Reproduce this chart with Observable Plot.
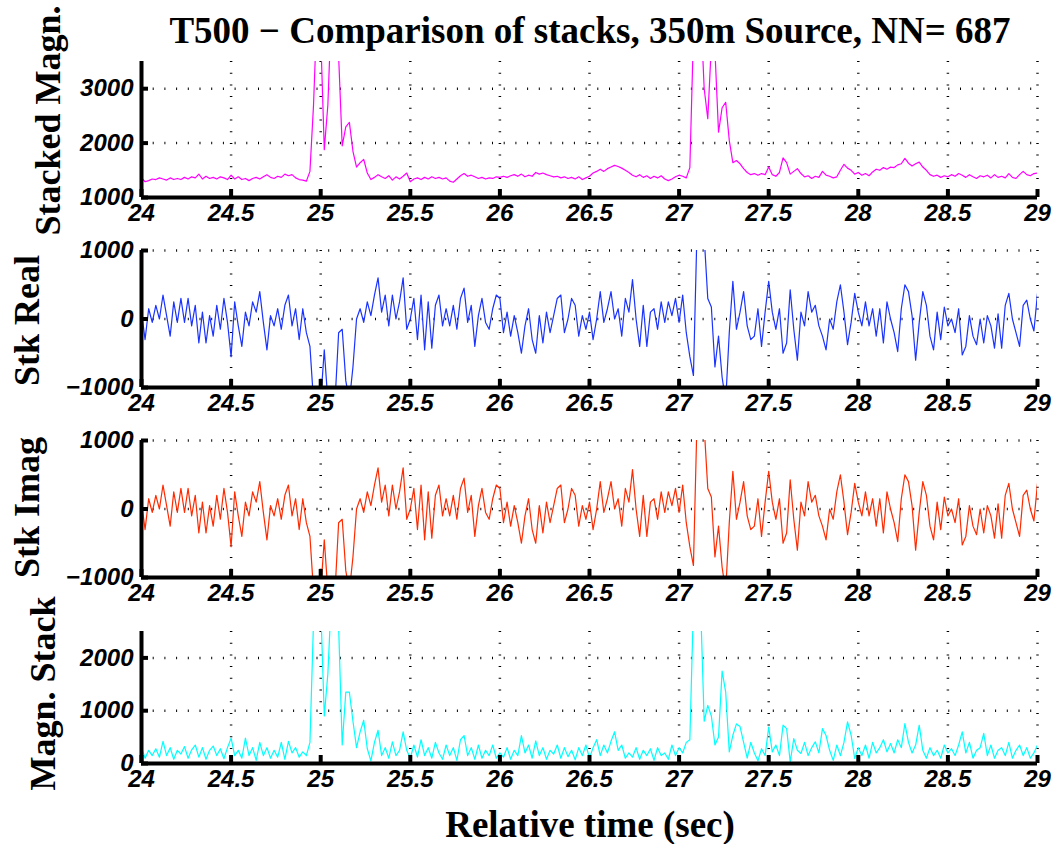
<!DOCTYPE html>
<html><head><meta charset="utf-8">
<script src="https://cdn.jsdelivr.net/npm/d3@7"></script>
<script src="https://cdn.jsdelivr.net/npm/@observablehq/plot@0.6"></script>
<style>
body{margin:0;background:#fff;}
#wrap{position:relative;width:1057px;height:844px;background:#fff;overflow:hidden;}
#wrap svg{position:absolute;left:0;}
.lbl{position:absolute;font-family:"Liberation Serif","Times New Roman",serif;font-weight:bold;white-space:nowrap;text-align:center;line-height:1;color:#000;}
</style></head><body>
<div id="wrap"></div>
<script>
// ---------------- data ----------------
const sampleStart = 24;      // s
const sampleStep = 0.02;     // s
const xTicks = [24, 24.5, 25, 25.5, 26, 26.5, 27, 27.5, 28, 28.5, 29];

const titleText = "T500 − Comparison of stacks, 350m Source, NN= 687";
const xLabelText = "Relative time (sec)";

const stackedMagn = [
1360,1290,1310,1340,1330,1360,1340,1320,1360,1330,
1350,1330,1370,1340,1380,1360,1430,1340,1390,1350,
1370,1340,1380,1360,1330,1410,1340,1380,1330,1350,
1310,1350,1370,1340,1380,1420,1370,1350,1390,1370,
1430,1400,1420,1360,1330,1320,1300,1480,2700,4500,
4000,1880,2700,4500,5000,3600,1950,2300,2380,1850,
1560,1640,1700,1450,1330,1370,1420,1380,1350,1400,
1320,1380,1340,1390,1450,1290,1340,1360,1330,1370,
1340,1380,1350,1370,1340,1360,1300,1280,1340,1400,
1440,1390,1410,1380,1350,1370,1340,1360,1350,1380,
1370,1390,1370,1400,1420,1390,1430,1380,1410,1390,
1460,1430,1450,1420,1400,1380,1390,1360,1380,1350,
1370,1340,1380,1330,1360,1390,1450,1480,1520,1480,
1530,1560,1590,1570,1540,1500,1460,1410,1380,1420,
1370,1400,1350,1390,1360,1400,1340,1310,1340,1380,
1410,1390,1360,1550,4000,5000,4500,3000,2450,3800,
3700,2200,2650,2750,2050,1640,1680,1620,1530,1460,
1420,1440,1410,1440,1420,1560,1420,1390,1460,1730,
1640,1430,1480,1530,1440,1380,1400,1350,1390,1370,
1480,1410,1390,1360,1380,1500,1610,1540,1500,1430,
1460,1410,1440,1400,1470,1520,1500,1550,1520,1560,
1550,1600,1620,1720,1630,1580,1620,1650,1560,1500,
1420,1390,1410,1370,1400,1380,1420,1390,1440,1410,
1370,1420,1380,1350,1400,1380,1410,1360,1420,1370,
1390,1360,1440,1370,1350,1420,1480,1420,1400,1440,
1450];

const stkReal = [
100,-300,150,-50,200,0,350,50,-250,250,
-50,300,-50,300,-100,200,-350,100,-350,50,
-250,200,-150,300,-50,-550,250,-100,-400,100,
-100,250,100,400,-50,-450,50,-100,150,-150,
200,350,-100,150,-300,150,-200,-400,-1200,-1300,
-1200,-450,-1200,-1400,-1200,-200,-150,-900,-1200,-700,
0,150,-50,250,50,350,600,100,350,-100,
350,0,250,600,-150,0,300,-300,350,-450,
250,-425,200,350,-100,150,-100,200,-150,300,
450,-50,200,-400,50,300,-50,-150,150,350,
300,-200,100,-250,50,-200,-500,-100,150,-300,
-500,50,-350,100,-200,50,300,350,-200,0,
300,200,-250,50,-150,100,-300,0,400,-50,
150,400,0,150,-250,300,100,575,0,-400,
200,-400,100,150,-150,250,-50,250,50,300,
-50,350,-200,-550,-825,1300,1400,1200,300,175,
-700,-250,-850,-1200,-200,550,-150,100,400,-100,
-300,-250,150,-400,100,550,100,-150,150,-500,
-350,425,-150,-600,100,-100,400,100,200,-100,
-250,-450,0,-150,250,500,100,-375,-50,375,
100,-100,250,-100,150,-250,150,-350,250,0,
-200,-475,150,500,400,50,-600,-50,400,200,
-250,-450,100,-300,175,-100,0,-200,150,-525,
-400,50,-250,-375,0,-350,50,-100,-425,75,
-425,200,375,0,-200,-400,200,275,0,-175,
375];

const stkImag = [
100,-300,150,-50,200,0,350,50,-250,250,
-50,300,-50,300,-100,200,-350,100,-350,50,
-250,200,-150,300,-50,-550,250,-100,-400,100,
-100,250,100,400,-50,-450,50,-100,150,-150,
200,350,-100,150,-300,150,-200,-400,-1200,-1300,
-1200,-450,-1200,-1400,-1200,-200,-150,-900,-1200,-700,
0,150,-50,250,50,350,600,100,350,-100,
350,0,250,600,-150,0,300,-300,350,-450,
250,-425,200,350,-100,150,-100,200,-150,300,
450,-50,200,-400,50,300,-50,-150,150,350,
300,-200,100,-250,50,-200,-500,-100,150,-300,
-500,50,-350,100,-200,50,300,350,-200,0,
300,200,-250,50,-150,100,-300,0,400,-50,
150,400,0,150,-250,300,100,575,0,-400,
200,-400,100,150,-150,250,-50,250,50,300,
-50,350,-200,-550,-825,1300,1400,1200,300,175,
-700,-250,-850,-1200,-200,550,-150,100,400,-100,
-300,-250,150,-400,100,550,100,-150,150,-500,
-350,425,-150,-600,100,-100,400,100,200,-100,
-250,-450,0,-150,250,500,100,-375,-50,375,
100,-100,250,-100,150,-250,150,-350,250,0,
-200,-475,150,500,400,50,-600,-50,400,200,
-250,-450,100,-300,175,-100,0,-200,150,-525,
-400,50,-250,-375,0,-350,50,-100,-425,75,
-425,200,375,0,-200,-400,200,275,0,-175,
375];

const magnStack = [
300,100,250,150,280,120,420,150,300,80,
250,180,320,100,260,350,120,300,80,250,
330,150,280,90,300,480,150,250,100,480,
150,300,60,400,150,300,100,250,120,400,
80,420,200,300,120,220,150,400,2700,3500,
3000,900,1700,3200,3500,2600,350,1350,1350,800,
300,600,820,280,50,400,630,150,300,100,
410,150,250,600,250,100,350,120,450,150,
300,100,400,200,80,350,150,300,60,450,
530,150,300,80,350,100,250,150,350,100,
200,120,300,80,250,150,530,200,350,100,
430,150,300,80,250,180,350,100,300,130,
250,70,300,150,350,100,300,450,150,350,
200,420,600,250,350,100,200,120,300,80,
250,150,280,60,300,150,200,80,350,150,
300,200,400,450,3000,3500,3000,800,1100,900,
350,500,1750,1350,220,535,750,700,400,100,
400,200,50,280,150,690,220,350,150,725,
660,30,470,250,190,400,150,300,410,200,
660,530,250,60,350,150,400,790,535,95,
300,150,350,100,400,200,300,450,220,380,
200,450,300,755,400,200,350,725,250,100,
300,150,250,100,350,200,280,150,350,600,
200,400,100,250,300,570,150,350,100,250,
300,150,400,100,250,350,150,300,100,200,
350];

const panels = [
  {label: "Stacked Magn.", values: stackedMagn, color: "#ff00ff", yDomain: [1000, 3500], yTicks: [1000, 2000, 3000], yGrid: [2000, 3000],
   svgTop: 0, marginTop: 61, frameH: 136, marginBottom: 43, labelX: 48, labelY: 120},
  {label: "Stk Real", values: stkReal, color: "#1a33ff", yDomain: [-1000, 1000], yTicks: [-1000, 0, 1000], yGrid: [0, 1000],
   svgTop: 240, marginTop: 10, frameH: 137, marginBottom: 43, labelX: 27, labelY: 320},
  {label: "Stk Imag", values: stkImag, color: "#ff2a00", yDomain: [-1000, 1000], yTicks: [-1000, 0, 1000], yGrid: [0, 1000],
   svgTop: 430, marginTop: 10, frameH: 137, marginBottom: 43, labelX: 27, labelY: 507},
  {label: "Magn. Stack", values: magnStack, color: "#00ffff", yDomain: [0, 2500], yTicks: [0, 1000, 2000], yGrid: [1000, 2000],
   svgTop: 620, marginTop: 11, frameH: 132, marginBottom: 40, labelX: 43, labelY: 693}
];

// ---------------- drawing ----------------
const W = 1057, ML = 141, MR = 20, FW = W - ML - MR;
const fmt = d => d < 0 ? "\u2212" + Math.abs(d) : String(d);
const wrap = document.getElementById("wrap");
const tickFont = {fontSize: 24, fontWeight: "bold", fontStyle: "italic", fontFamily: "Liberation Sans, Arial, sans-serif", fill: "#000"};
const dots = {stroke: "#000", strokeOpacity: 1, strokeWidth: 2.5, strokeDasharray: "1,10.7"};

for (const p of panels) {
  const data = p.values.map((v, i) => ({t: sampleStart + i * sampleStep, v}));
  const H = p.marginTop + p.frameH + p.marginBottom;
  const svg = Plot.plot({
    width: W, height: H,
    marginLeft: ML, marginRight: MR, marginTop: p.marginTop, marginBottom: p.marginBottom,
    style: {background: "transparent", overflow: "visible"},
    x: {domain: [24, 29], axis: null},
    y: {domain: p.yDomain, axis: null},
    marks: [
      Plot.gridX(xTicks.slice(1), dots),
      Plot.gridY(p.yGrid, dots),
      Plot.line(data, {x: "t", y: "v", stroke: p.color, strokeWidth: 1.2, clip: true}),
      Plot.ruleX([24], {stroke: "#000", strokeWidth: 4}),
      Plot.ruleY([p.yDomain[0]], {x1: 24, x2: 29, stroke: "#000", strokeWidth: 4}),
      Plot.ruleX(xTicks, {stroke: "#000", strokeWidth: 4, insetTop: p.frameH - 8}),
      Plot.ruleY(p.yTicks, {stroke: "#000", strokeWidth: 4, insetRight: FW - 7}),
      Plot.axisX({ticks: xTicks, tickSize: 0, tickPadding: 6, tickFormat: fmt, label: null, ...tickFont}),
      Plot.axisY({ticks: p.yTicks, tickSize: 0, tickPadding: 8, tickFormat: fmt, label: null, ...tickFont}),
      Plot.text([p.label], {frameAnchor: "left", textAnchor: "middle", lineAnchor: "middle", rotate: -90, dx: p.labelX - ML,
        dy: p.labelY - (p.svgTop + p.marginTop + p.frameH / 2),
        fontSize: 36, fontWeight: "bold", fontFamily: "Liberation Serif, Times New Roman, serif", fill: "#000"})
    ]
  });
  svg.style.top = p.svgTop + "px";
  wrap.appendChild(svg);
}

const title = document.createElement("div");
title.className = "lbl";
title.textContent = titleText;
Object.assign(title.style, {left: "0px", width: "1180px", top: "12px", fontSize: "37px"});
wrap.appendChild(title);

const xl = document.createElement("div");
xl.className = "lbl";
xl.textContent = xLabelText;
Object.assign(xl.style, {left: "0px", width: "1180px", top: "806px", fontSize: "37px"});
wrap.appendChild(xl);
</script>
</body></html>
